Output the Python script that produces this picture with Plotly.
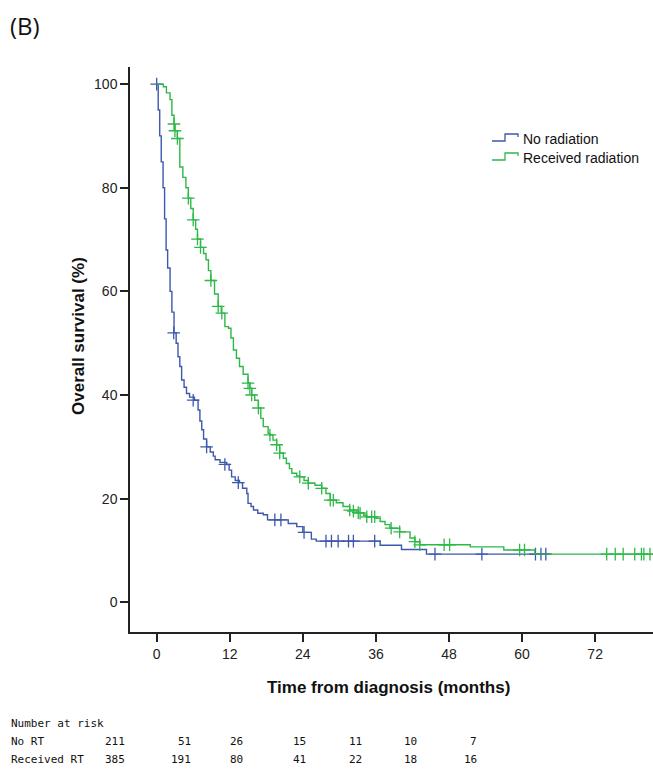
import plotly.graph_objects as go

# Kaplan-Meier step points (time in months, survival in %)
no_rt_time = [0, 0.25, 0.5, 0.75, 1.05, 1.3, 1.55, 1.8, 2.2, 2.5, 2.85, 3.2, 3.5,
              3.8, 4.1, 4.5, 4.9, 5.4, 6.2, 6.8, 7.1, 7.4, 7.7, 8.2, 8.8, 9.3,
              9.6, 10.4, 11.5, 11.9, 12.3, 12.9, 13.6, 14.1, 14.8, 15.0, 15.5,
              15.9, 16.6, 17.5, 18.2, 21.6, 23.0, 24.0, 25.4, 26.2, 36.7, 40.2,
              44.3, 64.6]
no_rt_surv = [100, 95, 90, 85, 80, 74, 68, 64.5, 60, 56, 52, 50, 47.4,
              45.5, 42.9, 41.5, 40.3, 39.6, 39.0, 37.1, 35.0, 33.3, 31.5, 30.0,
              29.0, 28.2, 27.5, 27.0, 26.6, 25.5, 24.2, 23.5, 23.1, 22.0, 21.0,
              19.1, 18.5, 17.8, 17.2, 16.9, 15.9, 15.2, 14.6, 13.5, 12.2, 11.8,
              11.0, 10.2, 9.3, 9.3]
no_rt_cens_time = [0, 2.8, 6.0, 8.2, 11.2, 13.4, 19.4, 20.4, 24.2, 27.8, 28.7,
                   29.8, 31.5, 32.3, 35.8, 45.7, 53.4, 62.2, 63.1, 63.9]
no_rt_cens_surv = [100, 52, 39.0, 30.0, 26.6, 23.1, 15.9, 15.9, 13.5, 11.8, 11.8,
                   11.8, 11.8, 11.8, 11.8, 9.3, 9.3, 9.3, 9.3, 9.3]

rt_time = [0, 0.5, 1.1, 1.6, 2.2, 2.5, 2.85, 3.0, 3.4, 3.8, 4.3, 4.8, 5.2, 5.6,
           6.0, 6.4, 6.7, 7.2, 7.7, 8.1, 8.5, 8.9, 9.5, 10.1, 10.6, 11.2, 11.8,
           12.2, 12.6, 13.1, 13.6, 14.2, 15.0, 15.3, 15.6, 16.1, 16.7, 17.1,
           17.5, 18.3, 18.6, 19.1, 19.7, 20.2, 20.8, 21.3, 21.8, 22.2, 23.0,
           23.5, 24.2, 24.9, 26.0, 27.1, 27.8, 28.5, 29.5, 30.6, 31.7, 33.1,
           34.0, 34.5, 36.0, 36.7, 37.5, 38.3, 39.9, 41.6, 42.4, 43.2, 51.5,
           57.0, 62.1, 81.5]
rt_surv = [100, 100, 99.5, 98.3, 97, 94, 92.3, 91, 89.5, 84, 82, 80, 78, 76,
           73.8, 72, 70.1, 68.5, 67.3, 66.1, 64, 62.1, 59.5, 57.1, 55.8, 53.2,
           52.9, 51, 48.7, 47.1, 45.5, 44, 42.3, 41.3, 40.0, 39, 37.5, 35.5,
           33.9, 32.6, 32.3, 31.3, 30.4, 28.8, 27.8, 26.8, 25.8, 24.9, 24.4,
           24.2, 23.5, 23.0, 22.6, 22.0, 21.0, 19.7, 19.2, 18.5, 17.8, 17.3,
           16.8, 16.5, 16.2, 15.6, 15.0, 14.3, 13.6, 12.4, 11.7, 11.1, 10.7,
           10.1, 9.3, 9.3]
rt_cens_time = [2.84, 3.0, 3.4, 5.2, 6.0, 6.7, 7.2, 8.9, 10.1, 10.7, 15.0, 15.3,
                15.6, 16.7, 18.6, 19.7, 20.2, 23.5, 24.9, 27.1, 28.5, 29.0, 31.7,
                32.3, 33.1, 33.4, 34.5, 35.3, 35.8, 38.5, 39.9, 42.4, 43.2, 47.2,
                48.1, 59.6, 60.4, 73.9, 75.3, 76.6, 78.5, 79.6, 80.0, 81.0]
rt_cens_surv = [92.3, 91, 89.5, 78, 73.8, 70.1, 68.5, 62.1, 57.1, 55.8, 42.3, 41.3,
                40.0, 37.5, 32.3, 30.4, 28.8, 24.2, 23.0, 22.0, 19.7, 19.7, 17.8,
                17.6, 17.3, 17.2, 16.5, 16.5, 16.5, 14.3, 13.6, 11.7, 11.1, 11.1,
                11.1, 10.1, 10.1, 9.3, 9.3, 9.3, 9.3, 9.3, 9.3, 9.3]

x_ticks = [0, 12, 24, 36, 48, 60, 72]
y_ticks = [0, 20, 40, 60, 80, 100]

group_names = ["No radiation", "Received radiation"]
risk_labels = ["No RT", "Received RT"]
risk_no_rt = [211, 51, 26, 15, 11, 10, 7]
risk_rt = [385, 191, 80, 41, 22, 18, 16]

col_blue = "#3E58AC"
col_green = "#2EB848"

W, H = 653, 774
ML, MR, MT, MB = 130, 0, 67, 142


def px(x):
    return (x - ML) / (W - ML - MR)


def py(y):
    return (H - MB - y) / (H - MT - MB)


fig = go.Figure()

for t, s, ct, cs, col in [(no_rt_time, no_rt_surv, no_rt_cens_time, no_rt_cens_surv, col_blue),
                          (rt_time, rt_surv, rt_cens_time, rt_cens_surv, col_green)]:
    fig.add_trace(go.Scatter(x=t, y=s, mode="lines", line_shape="hv",
                             line=dict(color=col, width=1.4),
                             showlegend=False, hoverinfo="skip"))
    fig.add_trace(go.Scatter(x=ct, y=cs, mode="markers",
                             marker=dict(symbol="cross-thin", size=9,
                                         line=dict(color=col, width=1.3)),
                             showlegend=False))

axis_font = dict(family="Liberation Sans, Arial", size=14, color="#222")
fig.update_xaxes(range=[-4.38, 81.5], tickvals=x_ticks, ticks="outside",
                 ticklen=8, tickwidth=1.5, tickcolor="#222", showline=True,
                 linecolor="#222", linewidth=1.5, showgrid=False, zeroline=False,
                 tickfont=axis_font)
fig.update_yaxes(range=[-5.73, 103.3], tickvals=y_ticks, ticks="outside",
                 ticklen=8, tickwidth=1.5, tickcolor="#222", showline=True,
                 linecolor="#222", linewidth=1.5, showgrid=False, zeroline=False,
                 tickfont=axis_font)

title_font = dict(family="Liberation Sans, Arial", size=17, color="#111")
annotations = [
    dict(text="<b>Time from diagnosis (months)</b>", x=px(388), y=py(688),
         font=title_font),
    dict(text="<b>Overall survival (%)</b>", x=px(78), y=py(336),
         textangle=-90, font=title_font),
    dict(text="(B)", x=px(8), y=py(26), xanchor="left",
         font=dict(family="Open Sans", size=24, color="#111")),
]

# hand-drawn legend with step-shaped keys, as in SPSS output
shapes = []
for i, (name, col) in enumerate(zip(group_names, [col_blue, col_green])):
    yc = 139 + i * 19
    path = (f"M {px(492)},{py(yc + 2)} L {px(505)},{py(yc + 2)} "
            f"L {px(505)},{py(yc - 5)} L {px(518)},{py(yc - 5)} "
            f"L {px(518)},{py(yc - 2)}")
    shapes.append(dict(type="path", path=path, xref="paper", yref="paper",
                       line=dict(color=col, width=1.3)))
    annotations.append(dict(text=name, x=px(521), y=py(yc), xanchor="left",
                            font=dict(family="Liberation Sans, Arial", size=14,
                                      color="#111")))

# number at risk table
mono = dict(family="DejaVu Sans Mono", size=11, color="#111")
col_right = [127, 193, 245, 308, 364, 419, 479]
annotations.append(dict(text="Number at risk", x=px(9), y=py(723),
                        xanchor="left", font=mono))
for r, (lab, vals) in enumerate(zip(risk_labels, [risk_no_rt, risk_rt])):
    yr = 741 + r * 18
    annotations.append(dict(text=lab, x=px(9), y=py(yr), xanchor="left",
                            font=mono))
    for xr, v in zip(col_right, vals):
        annotations.append(dict(text=str(v), x=px(xr), y=py(yr),
                                xanchor="right", font=mono))

for a in annotations:
    a.update(xref="paper", yref="paper", showarrow=False, yanchor="middle")
    a.setdefault("xanchor", "center")

fig.update_layout(width=W, height=H, margin=dict(l=ML, r=MR, t=MT, b=MB),
                  plot_bgcolor="white", paper_bgcolor="white",
                  annotations=annotations, shapes=shapes)

# drop the default page margin so the figure sits at the window's corner
fig.write_html("out.html", config={"displayModeBar": False},
               post_script="document.body.style.margin='0';"
                           "document.body.style.overflow='hidden';")
